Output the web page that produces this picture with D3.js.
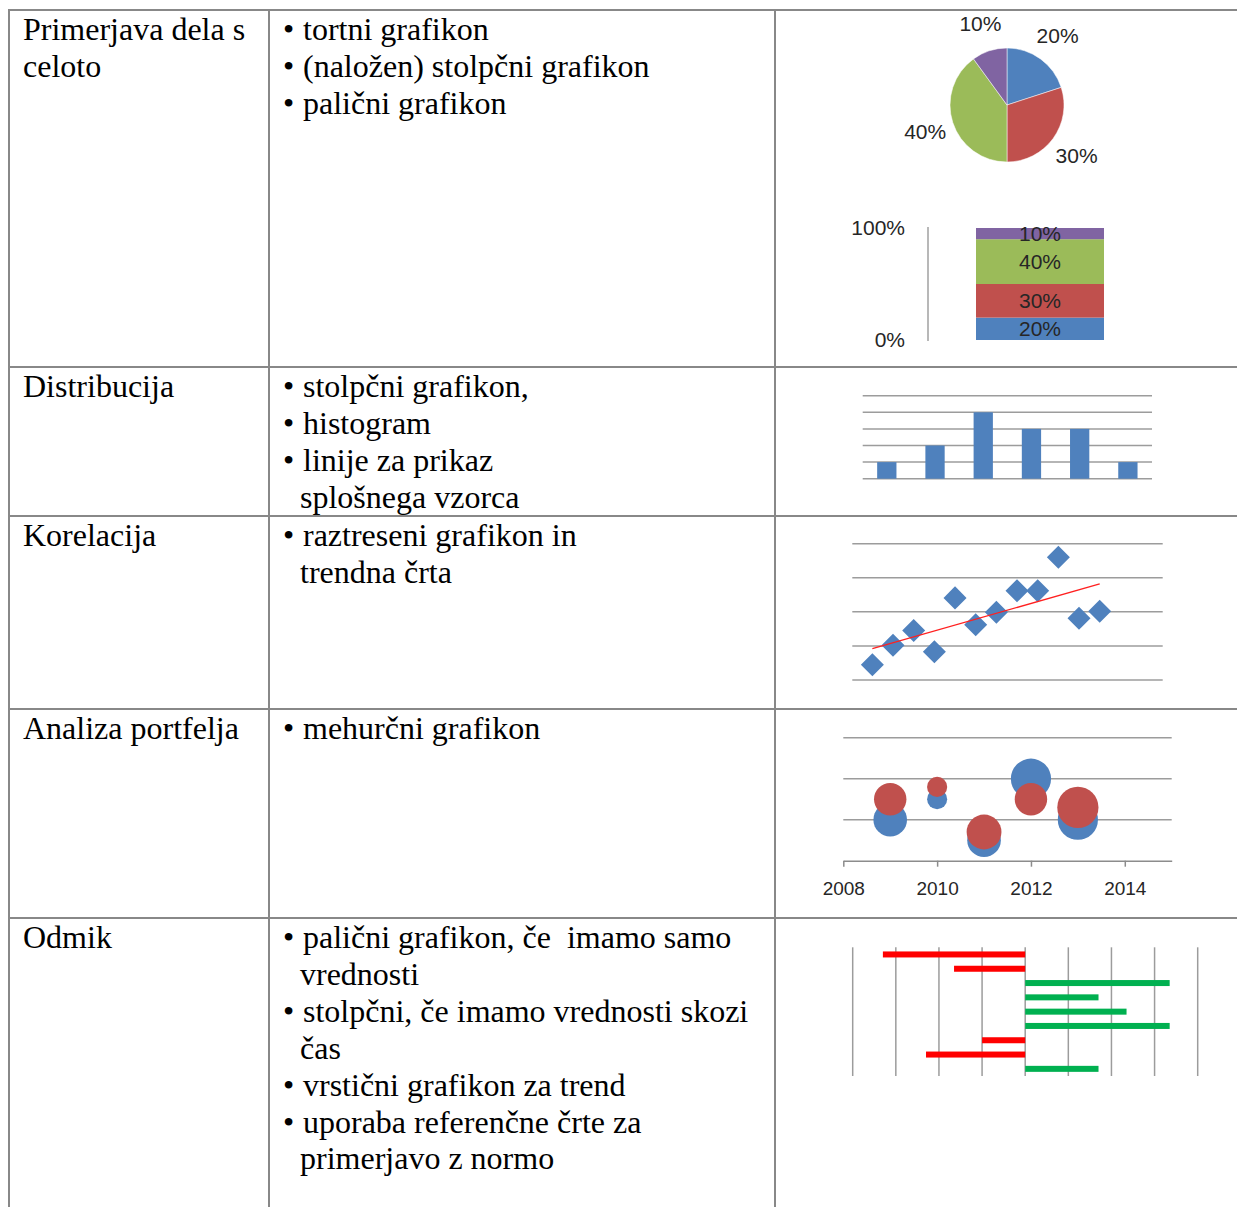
<!DOCTYPE html>
<html><head><meta charset="utf-8">
<script src="https://cdn.jsdelivr.net/npm/d3@7"></script>
<style>body{margin:0;background:#fff} svg{display:block}</style>
</head><body><svg id="c" width="1237" height="1207"></svg>
<script>
// ---------- DATA ----------
const rowTitles = [
  ["Primerjava dela s", "celoto"],
  ["Distribucija"],
  ["Korelacija"],
  ["Analiza portfelja"],
  ["Odmik"]
];
const rowBullets = [
  ["• tortni grafikon", "• (naložen) stolpčni grafikon", "• palični grafikon"],
  ["• stolpčni grafikon,", "• histogram", "• linije za prikaz", "splošnega vzorca"],
  ["• raztreseni grafikon in", "trendna črta"],
  ["• mehurčni grafikon"],
  ["• palični grafikon, če  imamo samo", "vrednosti", "• stolpčni, če imamo vrednosti skozi", "čas", "• vrstični grafikon za trend", "• uporaba referenčne črte za", "primerjavo z normo"]
];

const partValues = [20, 30, 40, 10];
const partLabels = ["20%", "30%", "40%", "10%"];
const stackTicks = [0, 100];

const distCategories = ["1", "2", "3", "4", "5", "6"];
const distValues = [1, 2, 4, 3, 3, 1];
const distGrid = [0, 1, 2, 3, 4, 5];

const scatterX = [1, 2, 3, 4, 5, 6, 7, 8, 9, 10, 11, 12];
const scatterY = [0.45, 1.02, 1.45, 0.83, 2.41, 1.62, 1.99, 2.62, 2.62, 3.6, 1.81, 2.02];
const scatterGrid = [0, 1, 2, 3, 4];

const bubbleYears = [2009, 2010, 2011, 2012, 2013];
const bubbleBlueY = [1.0, 1.5, 0.5, 2.0, 1.0];
const bubbleBlueSize = [7, 2.5, 7, 10, 10];
const bubbleRedY = [1.5, 1.8, 0.7, 1.5, 1.3];
const bubbleRedSize = [6.5, 2.5, 7.5, 6.5, 10.5];
const bubbleTicks = [2008, 2010, 2012, 2014];
const bubbleGrid = [1, 2, 3];

const devValues = [-3.3, -1.65, 3.35, 1.7, 2.35, 3.35, -1.0, -2.3, 1.7];
const devGrid = [-4, -3, -2, -1, 0, 1, 2, 3, 4];

// ---------- STYLE ----------
const C = {blue: "#4F81BD", red: "#C0504D", green: "#9BBB59", purple: "#8064A2"};
const partColors = [C.blue, C.red, C.green, C.purple];
const gridCol = "#9c9c9c";
const serif = "'Liberation Serif','Times New Roman',serif";
const sans = "'Liberation Sans',Arial,sans-serif";
const labelCol = "#262626";

const svg = d3.select("#c");
svg.append("rect").attr("width", 1237).attr("height", 1207).attr("fill", "#fff");

// ---------- TABLE ----------
const rowTops = [10, 367, 516, 709, 918];
const colX = [9, 269, 775];
const lineH = 36.9;
const tbl = svg.append("g");
rowTops.forEach(y => tbl.append("line").attr("x1", colX[0] - 1).attr("x2", 1237).attr("y1", y).attr("y2", y)
  .attr("stroke", "#888").attr("stroke-width", 2));
colX.forEach(x => tbl.append("line").attr("x1", x).attr("x2", x).attr("y1", rowTops[0]).attr("y2", 1207)
  .attr("stroke", "#888").attr("stroke-width", 2));

rowTitles.forEach((lines, i) => {
  lines.forEach((t, j) => {
    tbl.append("text").attr("x", 23).attr("y", rowTops[i] + 30 + j * lineH)
      .attr("font-family", serif).attr("font-size", 32).attr("fill", "#000").text(t);
  });
});
rowBullets.forEach((lines, i) => {
  lines.forEach((t, j) => {
    const y = rowTops[i] + 30 + j * lineH;
    if (t.startsWith("• ")) {
      tbl.append("text").attr("x", 283).attr("y", y).attr("font-family", serif).attr("font-size", 32).text("•");
      tbl.append("text").attr("x", 303).attr("y", y).attr("font-family", serif).attr("font-size", 32)
        .style("white-space", "pre").text(t.slice(2));
    } else {
      tbl.append("text").attr("x", 300).attr("y", y).attr("font-family", serif).attr("font-size", 32)
        .style("white-space", "pre").text(t);
    }
  });
});

// ---------- PIE ----------
{
  const g = svg.append("g").attr("transform", "translate(1007,105)");
  const arcs = d3.pie().sort(null).value(d => d)(partValues);
  const arc = d3.arc().innerRadius(0).outerRadius(57);
  const lab = d3.arc().innerRadius(86).outerRadius(86);
  g.selectAll("path").data(arcs).join("path").attr("d", arc)
    .attr("fill", (d, i) => partColors[i]).attr("stroke", "#fff").attr("stroke-width", 0.5);
  g.selectAll("text").data(arcs).join("text")
    .attr("transform", d => `translate(${lab.centroid(d)})`)
    .attr("text-anchor", "middle").attr("dy", "0.35em")
    .attr("font-family", sans).attr("font-size", 21).attr("fill", labelCol)
    .text((d, i) => partLabels[i]);
}

// ---------- STACKED BAR ----------
{
  const y = d3.scaleLinear().domain([0, 100]).range([340, 228]);
  const x = d3.scaleBand().domain(["total"]).range([976, 1104]).padding(0);
  const g = svg.append("g");
  let acc = 0;
  const segs = partValues.map((v, i) => { const s = {y0: acc, y1: acc + v, i}; acc += v; return s; });
  g.selectAll("rect").data(segs).join("rect")
    .attr("x", x("total")).attr("width", x.bandwidth())
    .attr("y", d => y(d.y1)).attr("height", d => y(d.y0) - y(d.y1))
    .attr("fill", d => partColors[d.i]);
  g.selectAll("text.seg").data(segs).join("text").attr("class", "seg")
    .attr("x", x("total") + x.bandwidth() / 2).attr("y", d => y((d.y0 + d.y1) / 2))
    .attr("dy", "0.35em").attr("text-anchor", "middle")
    .attr("font-family", sans).attr("font-size", 21).attr("fill", labelCol)
    .text(d => partLabels[d.i]);
  g.append("line").attr("x1", 928).attr("x2", 928).attr("y1", y(0) + 1).attr("y2", y(100) - 1)
    .attr("stroke", "#a0a0a0").attr("stroke-width", 1.5);
  g.selectAll("text.tick").data(stackTicks).join("text").attr("class", "tick")
    .attr("x", 905).attr("y", d => y(d)).attr("dy", "0.35em").attr("text-anchor", "end")
    .attr("font-family", sans).attr("font-size", 21).attr("fill", labelCol)
    .text(d => d + "%");
}

// ---------- DISTRIBUTION ----------
{
  const x = d3.scaleBand().domain(distCategories).range([862.7, 1152]).paddingInner(0.6).paddingOuter(0.3);
  const y = d3.scaleLinear().domain([0, 5]).range([478.7, 395.7]);
  const g = svg.append("g");
  g.selectAll("line").data(distGrid).join("line")
    .attr("x1", 862.7).attr("x2", 1152).attr("y1", d => y(d)).attr("y2", d => y(d))
    .attr("stroke", gridCol).attr("stroke-width", 1.5);
  g.selectAll("rect").data(distValues).join("rect")
    .attr("x", (d, i) => x(distCategories[i])).attr("width", x.bandwidth())
    .attr("y", d => y(d)).attr("height", d => y(0) - y(d)).attr("fill", C.blue);
}

// ---------- SCATTER ----------
{
  const x = d3.scaleLinear().domain([0, 15]).range([851.7, 1161.7]);
  const y = d3.scaleLinear().domain([0, 4]).range([680, 543.7]);
  const g = svg.append("g");
  g.selectAll("line.grid").data(scatterGrid).join("line").attr("class", "grid")
    .attr("x1", 852.3).attr("x2", 1162.7).attr("y1", d => y(d)).attr("y2", d => y(d))
    .attr("stroke", gridCol).attr("stroke-width", 1.5);
  const sq = d3.symbol().type(d3.symbolSquare).size(265);
  g.selectAll("path.pt").data(scatterY).join("path").attr("class", "pt")
    .attr("d", sq)
    .attr("transform", (d, i) => `translate(${x(scatterX[i])},${y(d)}) rotate(45)`)
    .attr("fill", C.blue);
  // least-squares trend line computed from the data
  const mx = d3.mean(scatterX), my = d3.mean(scatterY);
  const slope = d3.sum(scatterX, (xv, i) => (xv - mx) * (scatterY[i] - my)) / d3.sum(scatterX, xv => (xv - mx) ** 2);
  const b = my - slope * mx;
  const [xa, xb] = d3.extent(scatterX);
  g.append("line").attr("x1", x(xa)).attr("x2", x(xb)).attr("y1", y(b + slope * xa)).attr("y2", y(b + slope * xb))
    .attr("stroke", "#ff2020").attr("stroke-width", 1.3);
}

// ---------- BUBBLE ----------
{
  const x = d3.scaleLinear().domain([2008, 2015]).range([843.3, 1171.7]);
  const y = d3.scaleLinear().domain([0, 3]).range([860.7, 737.7]);
  const r = d3.scaleSqrt().domain([0, 10]).range([0, 20.1]);
  const g = svg.append("g");
  g.selectAll("line.grid").data(bubbleGrid).join("line").attr("class", "grid")
    .attr("x1", 843.3).attr("x2", 1171.7).attr("y1", d => y(d)).attr("y2", d => y(d))
    .attr("stroke", gridCol).attr("stroke-width", 1.5);
  g.selectAll("circle.b").data(bubbleYears).join("circle").attr("class", "b")
    .attr("cx", d => x(d)).attr("cy", (d, i) => y(bubbleBlueY[i])).attr("r", (d, i) => r(bubbleBlueSize[i]))
    .attr("fill", C.blue);
  g.selectAll("circle.r").data(bubbleYears).join("circle").attr("class", "r")
    .attr("cx", d => x(d)).attr("cy", (d, i) => y(bubbleRedY[i])).attr("r", (d, i) => r(bubbleRedSize[i]))
    .attr("fill", C.red);
  const ax = g.append("g").attr("transform", `translate(0,${y(0)})`)
    .call(d3.axisBottom(x).tickValues(bubbleTicks).tickFormat(d3.format("d")).tickSize(6).tickSizeOuter(0).tickPadding(15));
  ax.selectAll("path, line").attr("stroke", "#8c8c8c").attr("stroke-width", 1.5);
  ax.selectAll("text").attr("font-family", sans).attr("font-size", 19).attr("fill", labelCol);
}

// ---------- DEVIATION ----------
{
  const x = d3.scaleLinear().domain([-4, 4]).range([852.7, 1197.7]);
  const y = d3.scaleBand().domain(d3.range(devValues.length)).range([947.3, 1076]).paddingInner(0.58).paddingOuter(0.29);
  const g = svg.append("g");
  g.selectAll("line").data(devGrid).join("line")
    .attr("x1", d => x(d)).attr("x2", d => x(d)).attr("y1", 947.3).attr("y2", 1076)
    .attr("stroke", gridCol).attr("stroke-width", 1.5);
  g.selectAll("rect").data(devValues).join("rect")
    .attr("x", d => x(Math.min(0, d))).attr("width", d => Math.abs(x(d) - x(0)))
    .attr("y", (d, i) => y(i)).attr("height", y.bandwidth())
    .attr("fill", d => d < 0 ? "#FF0000" : "#00B050");
}
</script></body></html>
